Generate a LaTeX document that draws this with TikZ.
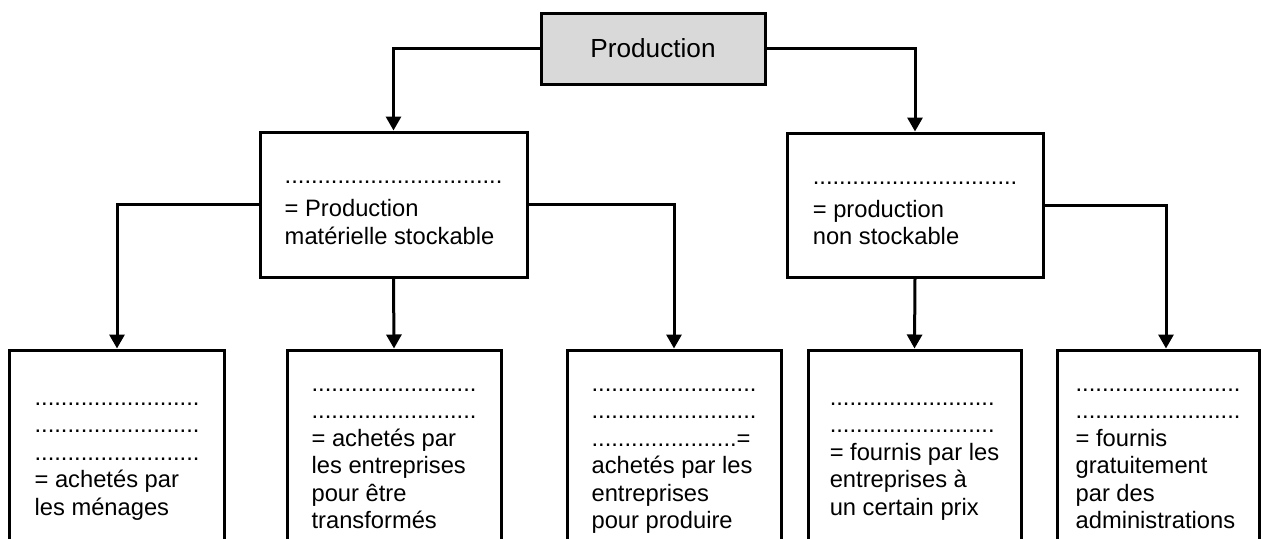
\documentclass[tikz,border=0pt]{standalone}
\usepackage{fontspec}
\setmainfont{Liberation Sans}
\usetikzlibrary{arrows.meta}
\definecolor{prodgrey}{RGB}{217,217,217}
\newcommand{\topstrut}{\rule{0pt}{0.545cm}}
\tikzset{
  box/.style={draw, line width=0.06cm, inner xsep=0.1cm, inner ysep=0cm, align=left,
    font=\fontsize{13.5}{15.65}\selectfont},
  lowbox/.style={box, minimum width=4.28cm, minimum height=4.18cm},
  link/.style={line width=0.06cm, -{Triangle[length=0.28cm,width=0.30cm]}}
}
\begin{document}
\begin{tikzpicture}
\useasboundingbox (0,0) rectangle (25.22,-10.76);
\clip (0,0) rectangle (25.22,-10.76);
%Top box
\node[box, fill=prodgrey, align=center, minimum width=4.48cm, minimum height=1.42cm,
  font=\fontsize{14.9}{17}\selectfont] (prod) at (13.06,-0.97) {Production};

%Second level
\node[box, minimum width=5.34cm, minimum height=2.90cm] (mat) at (7.87,-4.09)
  {\topstrut.................................\\[0.11cm]= Production\\matérielle stockable\strut};
\node[box, minimum width=5.12cm, minimum height=2.88cm] (serv) at (18.30,-4.10)
  {\topstrut...............................\\[0.11cm]= production\\non stockable\strut};

%Bottom boxes (cut by the page)
\node[lowbox] (b1) at (2.34,-9.09)
  {\strut.........................\\.........................\\.........................\\= achetés par\\les ménages\strut};
\node[lowbox] (b2) at (7.88,-9.09)
  {\strut.........................\\.........................\\= achetés par\\les entreprises\\pour être\\transformés\strut};
\node[lowbox] (b3) at (13.48,-9.09)
  {\strut.........................\\.........................\\......................=\\achetés par les\\entreprises\\pour produire\strut};
\node[lowbox, minimum width=4.26cm] (b4) at (18.29,-9.09)
  {\strut.........................\\.........................\\= fournis par les\\entreprises à\\un certain prix\strut};
\node[lowbox, minimum width=4.04cm] (b5) at (23.16,-9.09)
  {\strut.........................\\.........................\\= fournis\\gratuitement\\par des\\administrations\strut};

%Links
\draw[link] (prod.west) -| (mat.north);
\draw[link] (prod.east) -| (serv.north);
\draw[link] (mat.west) -| (b1.north);
\draw[link] (mat.south) -- (b2.north);
\draw[link] (mat.east) -| (b3.north);
\draw[link] (serv.south) -- (b4.north);
\draw[link] (serv.east) -| ([xshift=0.16cm]b5.north);
\end{tikzpicture}
\end{document}
